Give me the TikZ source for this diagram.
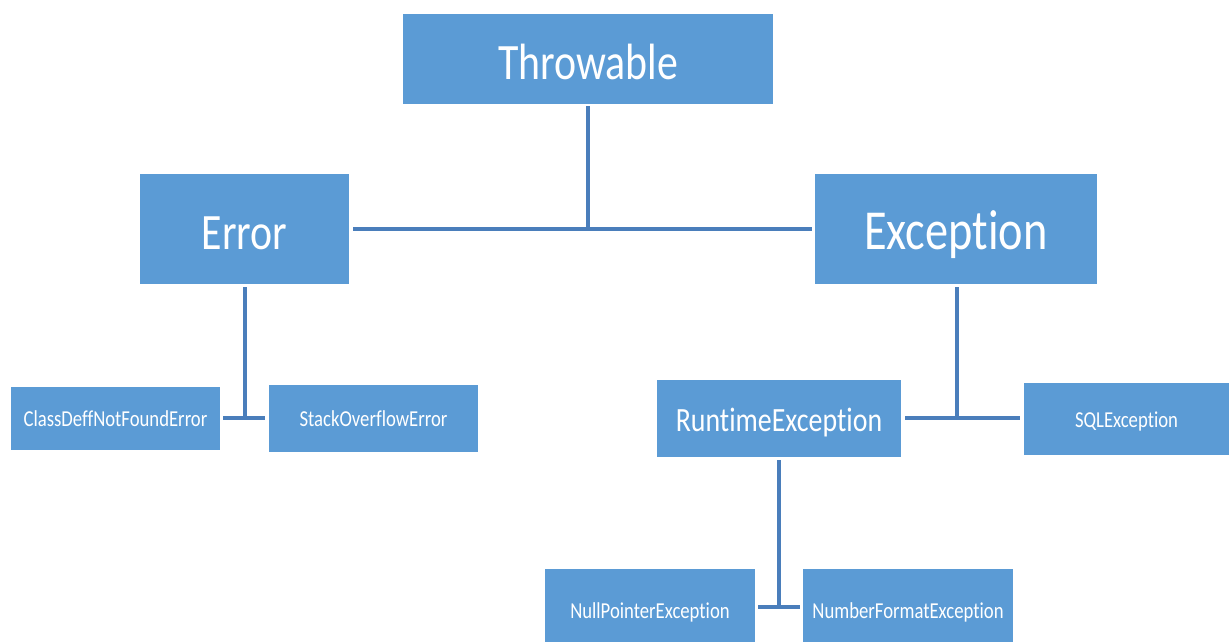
\documentclass[tikz,border=0pt]{standalone}
\usepackage{fontspec}
\newfontfamily\cfont[FakeStretch=0.82, Ligatures={NoCommon}]{Carlito}
\definecolor{boxblue}{HTML}{5B9BD5}
\definecolor{lineblue}{HTML}{4A7EBB}
\tikzset{
  cls/.style={fill=boxblue, draw=none, text=white, inner sep=0pt, text depth=0pt},
  big/.style={cls, text height=41pt, font=\cfont\fontsize{51}{60}\selectfont},
  mid/.style={cls, text height=25pt, font=\cfont\fontsize{34}{40}\selectfont},
  small/.style={cls, text height=16.5pt, font=\cfont\fontsize{22.8}{27}\selectfont},
  link/.style={draw=lineblue, line width=3.2pt}
}
\begin{document}
\begin{tikzpicture}[x=1pt,y=-1pt]
\useasboundingbox (0,0) rectangle (1229,641);
\node[big, minimum width=370pt, minimum height=90pt] (thr) at (588,59) {Throwable};
\node[big, minimum width=209pt, minimum height=110pt] (err) at (244.5,229) {Error};
\node[big, minimum width=282pt, minimum height=110pt, font=\cfont\fontsize{56.5}{66}\selectfont] (exc) at (956,229) {Exception};
\node[small, minimum width=209pt, minimum height=63pt] (cdnf) at (115.5,418.5) {ClassDeffNotFoundError};
\node[small, minimum width=209pt, minimum height=67pt] (soe) at (373.5,418.5) {StackOverflowError};
\node[mid, minimum width=244pt, minimum height=77pt] (rte) at (779,418.5) {RuntimeException};
\node[small, minimum width=205pt, minimum height=72pt] (sql) at (1126.5,419) {SQLException};
\node[small, minimum width=210pt, minimum height=82pt] (npe) at (650,610) {NullPointerException};
\node[small, minimum width=210pt, minimum height=82pt] (nfe) at (908,610) {NumberFormatException};
\coordinate (j1) at (588,229);
\coordinate (j2) at (245,418);
\coordinate (j3) at (957,418);
\coordinate (j4) at (779,607);
\draw[link, shorten <=2pt] (thr.south) -- (j1);
\draw[link, shorten <=4pt, shorten >=3pt] (err.east) -- (exc.west);
\draw[link, shorten <=3pt] (err.south -| j2) -- (j2);
\draw[link, shorten <=3pt, shorten >=4pt] (cdnf.east |- j2) -- (soe.west |- j2);
\draw[link, shorten <=3pt] (exc.south -| j3) -- (j3);
\draw[link, shorten <=4pt, shorten >=4pt] (rte.east |- j3) -- (sql.west |- j3);
\draw[link, shorten <=3pt] (rte.south -| j4) -- (j4);
\draw[link, shorten <=3pt, shorten >=3pt] (npe.east |- j4) -- (nfe.west |- j4);
\end{tikzpicture}
\end{document}
